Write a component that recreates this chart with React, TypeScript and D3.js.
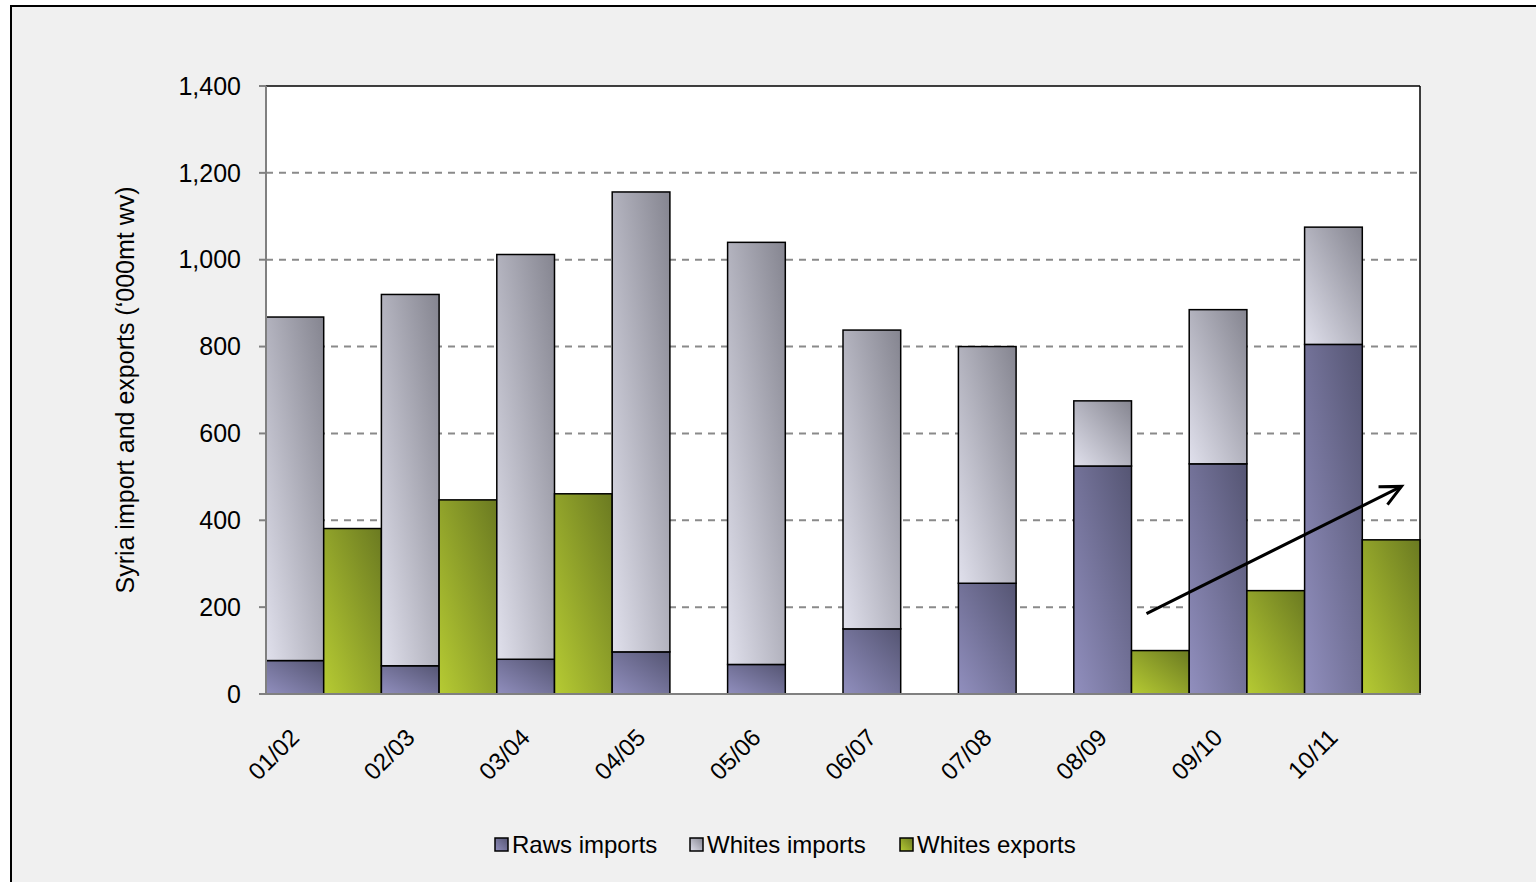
import React from "react";
import * as d3 from "d3";

const categories = ["01/02", "02/03", "03/04", "04/05", "05/06", "06/07", "07/08", "08/09", "09/10", "10/11"];
const rawsImports = [77, 65, 80, 97, 68, 150, 255, 525, 530, 805];
const whitesImports = [791, 855, 932, 1059, 972, 688, 545, 150, 355, 270];
const whitesExports = [381, 447, 461, 0, 0, 0, 0, 100, 238, 355];
const yTicks = [0, 200, 400, 600, 800, 1000, 1200, 1400];
const legendLabels = ["Raws imports", "Whites imports", "Whites exports"];
const arrowFrom = { cat: "08/09", frac: 0.63, value: 185 };
const arrowTo = { cat: "10/11", frac: 0.84, value: 478 };

const W = 1536;
const H = 882;
const plot = { left: 266, right: 1420, top: 86, bottom: 694 };
const FONT = "'Liberation Sans', Arial, sans-serif";

export default function App() {
  const x = d3.scaleBand<string>().domain(categories).range([plot.left, plot.right]).padding(0);
  const y = d3.scaleLinear().domain([0, 1400]).range([plot.bottom, plot.top]);
  const bw = x.bandwidth() / 2;

  const gradients = [
    { id: "gRaw", c0: "#918fbe", c1: "#555573" },
    { id: "gWhite", c0: "#e0e0ec", c1: "#858590" },
    { id: "gExp", c0: "#b6cb33", c1: "#6b7a21" },
  ];

  const ax1 = (x(arrowFrom.cat) as number) + x.bandwidth() * arrowFrom.frac;
  const ay1 = y(arrowFrom.value);
  const ax2 = (x(arrowTo.cat) as number) + x.bandwidth() * arrowTo.frac;
  const ay2 = y(arrowTo.value);
  const ang = Math.atan2(ay2 - ay1, ax2 - ax1);
  const headLen = 23;
  const headAng = 0.45;
  const h1 = [ax2 - headLen * Math.cos(ang - headAng), ay2 - headLen * Math.sin(ang - headAng)];
  const h2 = [ax2 - headLen * Math.cos(ang + headAng), ay2 - headLen * Math.sin(ang + headAng)];

  const legendX = [495, 690, 900];

  return (
    <svg
      width={W}
      height={H}
      style={{ position: "absolute", left: 0, top: 0, display: "block" }}
      fontFamily={FONT}
    >
      <defs>
        {gradients.map((g) => (
          <linearGradient key={g.id} id={g.id} x1="0" y1="1" x2="1" y2="0">
            <stop offset="0" stopColor={g.c0} />
            <stop offset="1" stopColor={g.c1} />
          </linearGradient>
        ))}
      </defs>
      <rect x={0} y={0} width={W} height={H} fill="#ffffff" />
      <rect x={11} y={6} width={W + 20} height={H + 20} fill="#f0f0f0" stroke="#000" strokeWidth={2} />

      {/* plot area */}
      <rect x={plot.left} y={plot.top} width={plot.right - plot.left} height={plot.bottom - plot.top} fill="#ffffff" />

      {/* gridlines */}
      {yTicks.filter((t) => t > 0 && t < 1400).map((t) => (
        <line
          key={t}
          x1={plot.left}
          x2={plot.right}
          y1={y(t)}
          y2={y(t)}
          stroke="#8a8a8a"
          strokeWidth={2}
          strokeDasharray="7,6"
        />
      ))}

      {/* border top/right */}
      <line x1={plot.left} x2={plot.right} y1={plot.top} y2={plot.top} stroke="#000" strokeWidth={1.5} />
      <line x1={plot.right} x2={plot.right} y1={plot.top} y2={plot.bottom} stroke="#000" strokeWidth={1.5} />

      {/* bars */}
      {categories.map((c, i) => {
        const x0 = x(c) as number;
        const r = rawsImports[i];
        const w = whitesImports[i];
        const e = whitesExports[i];
        return (
          <g key={c}>
            <rect x={x0} y={y(r)} width={bw} height={y(0) - y(r)} fill="url(#gRaw)" stroke="#000" strokeWidth={1.5} />
            <rect x={x0} y={y(r + w)} width={bw} height={y(r) - y(r + w)} fill="url(#gWhite)" stroke="#000" strokeWidth={1.5} />
            {e > 0 && (
              <rect x={x0 + bw} y={y(e)} width={bw} height={y(0) - y(e)} fill="url(#gExp)" stroke="#000" strokeWidth={1.5} />
            )}
          </g>
        );
      })}

      {/* axes */}
      <line x1={plot.left} x2={plot.left} y1={plot.top} y2={plot.bottom} stroke="#808080" strokeWidth={2} />
      <line x1={plot.left - 1} x2={plot.right + 1} y1={plot.bottom} y2={plot.bottom} stroke="#808080" strokeWidth={2} />
      {yTicks.map((t) => (
        <g key={t}>
          <line x1={plot.left - 7} x2={plot.left} y1={y(t)} y2={y(t)} stroke="#808080" strokeWidth={2} />
          <text x={241} y={y(t)} dy="0.35em" textAnchor="end" fontSize={25} fill="#000">
            {d3.format(",")(t)}
          </text>
        </g>
      ))}

      {/* x labels */}
      {categories.map((c) => {
        const cx = (x(c) as number) + x.bandwidth() / 2;
        return (
          <text key={c} transform={`translate(${cx - 23},${plot.bottom + 45}) rotate(-45)`} textAnchor="end" fontSize={24} fill="#000">
            {c}
          </text>
        );
      })}

      {/* y title */}
      <text
        transform={`translate(134,${(plot.top + plot.bottom) / 2}) rotate(-90)`}
        textAnchor="middle"
        fontSize={25}
        fill="#000"
      >
        Syria import and exports (‘000mt wv)
      </text>

      {/* arrow */}
      <line x1={ax1} y1={ay1} x2={ax2} y2={ay2} stroke="#000" strokeWidth={3} />
      <polyline points={`${h1[0]},${h1[1]} ${ax2},${ay2} ${h2[0]},${h2[1]}`} fill="none" stroke="#000" strokeWidth={3} />

      {/* legend */}
      {legendLabels.map((l, i) => (
        <g key={l}>
          <rect x={legendX[i]} y={838} width={13} height={13} fill={`url(#${gradients[i].id})`} stroke="#000" strokeWidth={1.5} />
          <text x={legendX[i] + 17} y={853} fontSize={24} fill="#000">
            {l}
          </text>
        </g>
      ))}
    </svg>
  );
}
